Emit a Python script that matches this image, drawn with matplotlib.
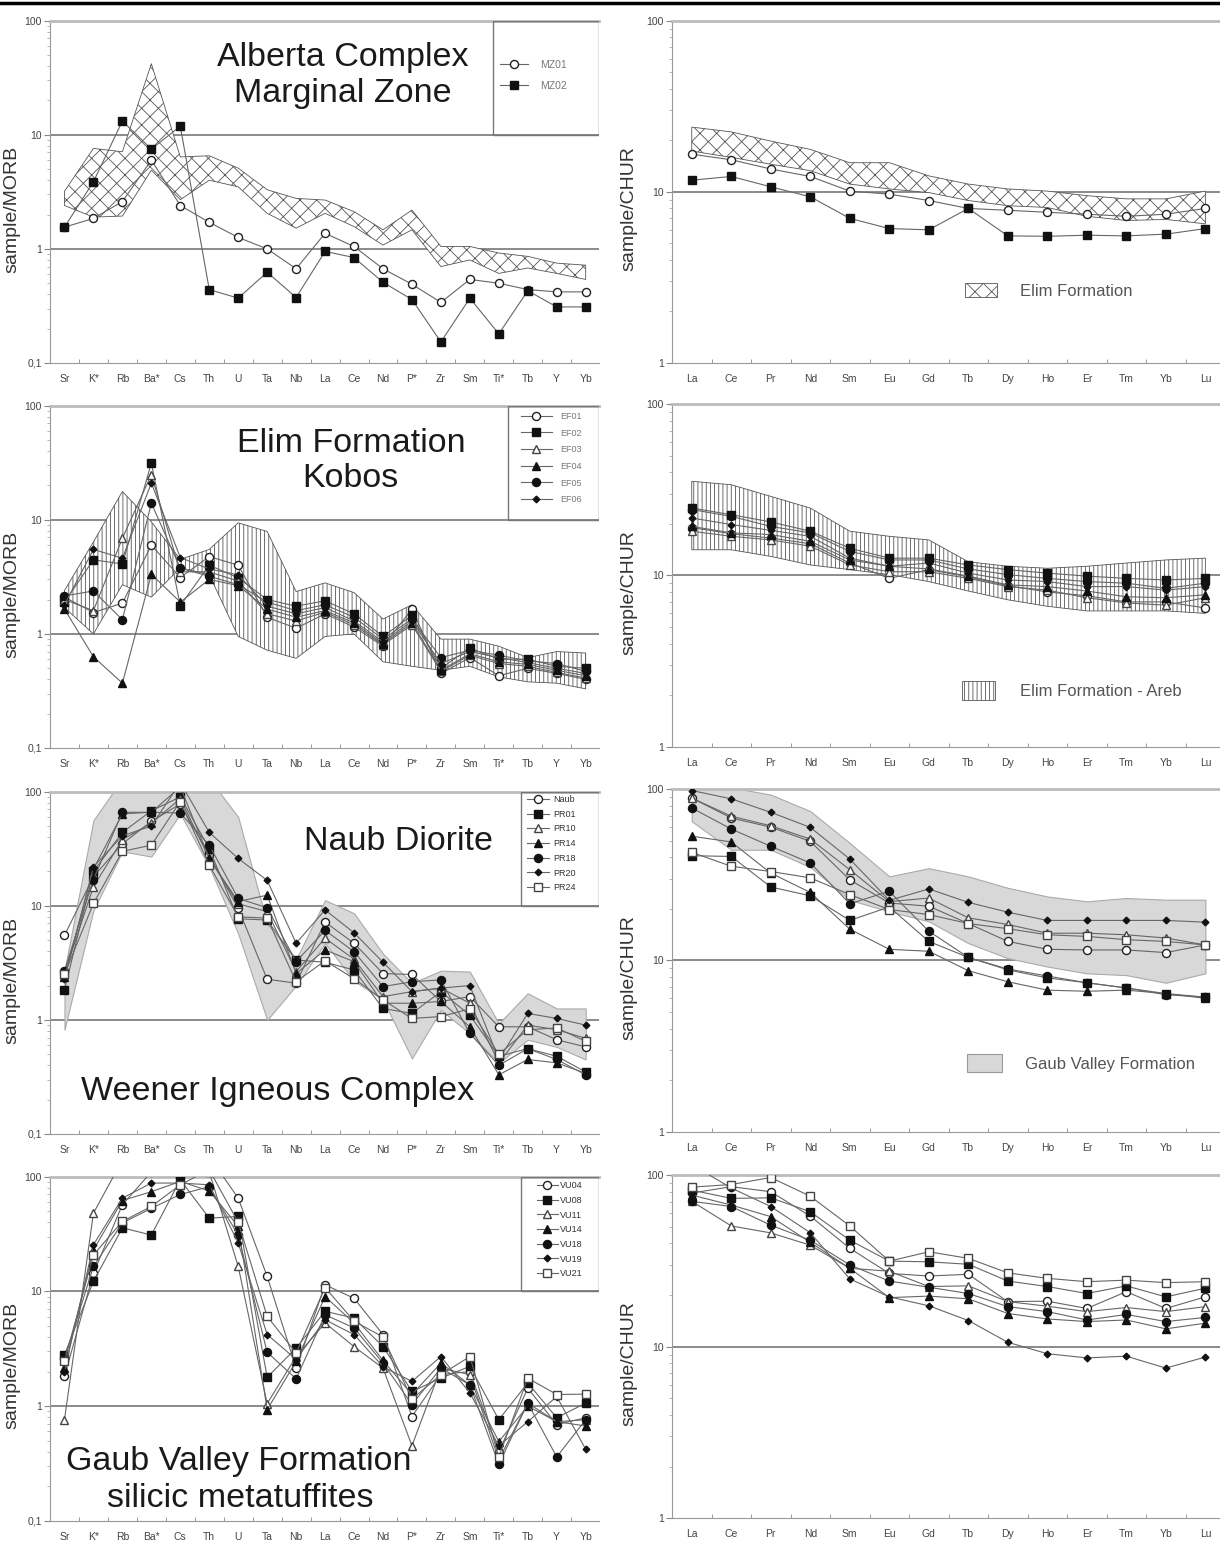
import matplotlib
matplotlib.use("Agg")
import matplotlib.pyplot as plt
import numpy as np
from matplotlib.patches import Patch, Rectangle
from matplotlib.lines import Line2D

plt.rcParams['font.family'] = ['Liberation Sans', 'DejaVu Sans']
plt.rcParams['hatch.linewidth'] = 0.6

# element order on the x axes
morb_el = ["Sr", "K*", "Rb", "Ba*", "Cs", "Th", "U", "Ta", "Nb", "La", "Ce",
           "Nd", "P*", "Zr", "Sm", "Ti*", "Tb", "Y", "Yb"]
ree_el = ["La", "Ce", "Pr", "Nd", "Sm", "Eu", "Gd", "Tb", "Dy", "Ho", "Er",
          "Tm", "Yb", "Lu"]

# --- row 1: Alberta Complex, Marginal Zone
mz_names = ["MZ01", "MZ02"]
mz01_morb = [1.55, 1.85, 2.6, 6.0, 2.4, 1.71, 1.26, 1.0, 0.67, 1.37, 1.05, 0.67, 0.49, 0.34, 0.54, 0.50, 0.44, 0.42, 0.42]
mz02_morb = [1.55, 3.88, 13.2, 7.5, 11.9, 0.44, 0.37, 0.625, 0.375, 0.95, 0.84, 0.51, 0.36, 0.153, 0.37, 0.18, 0.43, 0.31, 0.31]
elim_morb_hi = [3.2, 7.6, 7.1, 42, 6.4, 6.55, 5.1, 3.3, 2.77, 2.68, 2.12, 1.47, 2.19, 1.05, 1.05, 0.92, 0.86, 0.75, 0.72]
elim_morb_lo = [2.4, 1.9, 1.94, 4.9, 2.7, 4.0, 3.5, 2.05, 1.52, 2.05, 1.57, 1.08, 1.47, 0.70, 0.80, 0.61, 0.68, 0.61, 0.54]
mz01_ree = [16.6, 15.4, 13.6, 12.3, 10.1, 9.7, 8.9, 8.0, 7.8, 7.6, 7.4, 7.2, 7.4, 8.0]
mz02_ree = [11.7, 12.3, 10.7, 9.36, 7.0, 6.1, 6.0, 8.0, 5.53, 5.5, 5.58, 5.53, 5.66, 6.1]
elim_ree_hi = [23.9, 22.4, 19.8, 17.7, 14.8, 14.8, 12.4, 11.1, 10.4, 10.1, 9.5, 9.1, 9.1, 10.1]
elim_ree_lo = [17.3, 15.9, 14.5, 13.3, 11.1, 10.4, 9.9, 8.9, 8.3, 8.1, 7.2, 6.8, 6.9, 6.5]

# --- row 2: Elim Formation, Kobos
ef_names = ["EF01", "EF02", "EF03", "EF04", "EF05", "EF06"]
ef01_morb = [2.1, 1.54, 1.86, 6.0, 3.12, 4.76, 4.0, 1.4, 1.12, 1.5, 1.15, 0.78, 1.65, 0.45, 0.62, 0.43, 0.50, 0.45, 0.40]
ef02_morb = [1.9, 4.46, 4.1, 31.4, 1.77, 4.0, 3.1, 2.0, 1.75, 1.95, 1.5, 0.95, 1.45, 0.50, 0.75, 0.60, 0.60, 0.52, 0.50]
ef03_morb = [2.0, 1.6, 6.9, 24.9, 3.5, 3.5, 2.9, 1.5, 1.3, 1.55, 1.2, 0.80, 1.2, 0.47, 0.65, 0.55, 0.52, 0.46, 0.41]
ef04_morb = [1.65, 0.63, 0.37, 3.33, 1.9, 3.0, 2.65, 1.65, 1.4, 1.6, 1.25, 0.82, 1.25, 0.48, 0.67, 0.57, 0.54, 0.48, 0.43]
ef05_morb = [2.15, 2.38, 1.33, 14.0, 3.76, 3.2, 2.7, 1.9, 1.6, 1.8, 1.4, 0.90, 1.35, 0.62, 0.72, 0.65, 0.58, 0.55, 0.47]
ef06_morb = [1.8, 5.5, 4.6, 21.0, 4.67, 3.7, 3.3, 1.75, 1.5, 1.7, 1.3, 0.85, 1.3, 0.55, 0.70, 0.62, 0.56, 0.50, 0.45]
areb_morb_hi = [2.4, 6.4, 17.7, 9.6, 4.5, 5.5, 9.4, 7.9, 2.35, 2.8, 2.3, 1.35, 1.8, 0.9, 0.9, 0.78, 0.62, 0.7, 0.68]
areb_morb_lo = [1.7, 1.0, 2.7, 2.1, 3.8, 3.3, 0.95, 0.72, 0.61, 0.95, 1.0, 0.57, 0.52, 0.48, 0.52, 0.42, 0.38, 0.37, 0.33]
ef01_ree = [19.0, 17.5, 16.5, 15.3, 11.8, 9.6, 10.8, 9.8, 8.7, 8.0, 7.6, 7.0, 7.0, 6.45]
ef02_ree = [24.7, 22.6, 20.5, 18.1, 14.4, 12.6, 12.6, 11.5, 10.8, 10.3, 9.9, 9.6, 9.4, 9.6]
ef03_ree = [18.1, 16.9, 16.1, 14.8, 11.5, 10.5, 10.5, 9.6, 8.6, 8.2, 7.4, 6.9, 6.7, 7.4]
ef04_ree = [19.3, 17.7, 17.3, 15.8, 12.3, 11.3, 10.9, 9.9, 8.8, 8.6, 8.1, 7.5, 7.4, 7.7]
ef05_ree = [24.2, 22.1, 19.3, 17.7, 13.8, 12.3, 12.3, 10.9, 10.1, 9.6, 9.2, 9.0, 8.4, 9.0]
ef06_ree = [21.6, 19.8, 18.3, 16.9, 12.6, 11.3, 11.8, 10.3, 9.4, 9.2, 8.6, 8.6, 8.2, 8.6]
areb_ree_hi = [35.4, 33.8, 28.9, 24.7, 18.1, 16.9, 16.1, 12.0, 11.3, 11.0, 11.3, 11.8, 12.3, 12.6]
areb_ree_lo = [14.1, 14.1, 12.9, 11.5, 10.8, 10.1, 9.2, 8.1, 7.2, 6.6, 6.2, 6.2, 6.2, 6.0]

# --- row 3: Weener Igneous Complex, Naub Diorite
pr_names = ["Naub", "PR01", "PR10", "PR14", "PR18", "PR20", "PR24"]
naub_morb = [5.5, 18, 35, 55, 78, 27.7, 9.5, 2.27, 2.1, 7.2, 4.7, 2.55, 2.5, 1.45, 1.6, 0.87, 0.87, 0.67, 0.58]
pr01_morb = [1.83, 20, 44, 68, 90, 31.7, 7.7, 7.5, 3.35, 3.2, 2.74, 1.26, 1.14, 1.77, 1.1, 0.48, 0.56, 0.48, 0.35]
pr10_morb = [2.55, 14.7, 38, 53, 87, 26, 10.4, 8.9, 2.65, 5.2, 3.4, 1.6, 1.77, 1.9, 1.4, 0.42, 0.9, 0.82, 0.69]
pr14_morb = [2.4, 21, 64, 66, 110, 26, 10.9, 12.4, 2.55, 4.1, 3.24, 1.4, 1.4, 1.45, 0.87, 0.33, 0.45, 0.42, 0.34]
pr18_morb = [2.7, 17, 66, 66, 65, 34, 11.6, 9.6, 3.24, 6.1, 3.96, 1.96, 2.16, 2.24, 0.76, 0.40, 0.56, 0.45, 0.33]
pr20_morb = [2.27, 22, 41, 50, 120, 44, 26, 16.7, 4.7, 9.2, 5.8, 3.2, 1.77, 1.9, 2.0, 0.45, 1.14, 1.03, 0.9]
pr24_morb = [2.5, 10.5, 30, 34, 82, 22.7, 8.0, 7.8, 2.16, 3.3, 2.3, 1.5, 1.03, 1.07, 1.25, 0.5, 0.82, 0.85, 0.65]
gaub_morb_hi = [2.7, 56, 130, 130, 130, 130, 60, 7.0, 3.4, 11.2, 8.6, 3.8, 2.1, 2.7, 2.65, 0.93, 1.71, 1.26, 1.26]
gaub_morb_lo = [0.82, 9.1, 30, 27, 64, 22, 5.7, 1.0, 2.0, 4.7, 2.2, 1.5, 0.46, 1.22, 0.76, 0.42, 0.67, 0.58, 0.45]
naub_ree = [88.6, 67.7, 59.9, 49.5, 29.5, 21.6, 20.7, 16.4, 12.9, 11.6, 11.5, 11.5, 11.1, 12.3]
pr01_ree = [40.8, 40.4, 26.8, 23.8, 17.1, 20.5, 12.9, 10.4, 8.8, 7.9, 7.4, 6.9, 6.4, 6.1]
pr10_ree = [88.6, 69.4, 61, 51, 33.8, 22, 23.1, 17.7, 16.2, 14.4, 14.4, 14.1, 13.5, 12.3]
pr14_ree = [53, 49.1, 32.3, 24.9, 15.2, 11.6, 11.3, 8.7, 7.5, 6.7, 6.6, 6.7, 6.4, 6.0]
pr18_ree = [77.5, 58.4, 46.3, 37, 21.4, 25.3, 14.8, 10.4, 8.9, 8.1, 7.4, 6.9, 6.3, 6.1]
pr20_ree = [98, 87.6, 73.1, 59.7, 39, 22.4, 26.1, 21.8, 19.1, 17.1, 17.1, 17.1, 17.1, 16.7]
pr24_ree = [42.7, 35.4, 33.0, 30.3, 24.2, 19.8, 18.5, 16.4, 15.3, 14.1, 13.8, 13.2, 12.9, 12.3]
gaub_ree_hi = [105, 102, 92.7, 74.3, 48.4, 30.9, 34.5, 30.9, 26.5, 23.6, 22.1, 23.1, 22.6, 22.6]
gaub_ree_lo = [64.8, 44.2, 44.2, 35, 22.5, 19.3, 16.9, 12.6, 10.3, 9.2, 8.4, 8.2, 7.4, 8.4]

# --- row 4: Gaub Valley Formation, silicic metatuffites
vu_names = ["VU04", "VU08", "VU11", "VU14", "VU18", "VU19", "VU21"]
vu04_morb = [1.81, 14.4, 57, 110, 100, 150, 65, 13.5, 2.14, 11.4, 8.7, 4.2, 0.81, 1.88, 2.0, 0.40, 1.43, 0.69, 0.79]
vu08_morb = [2.8, 12.2, 35.8, 31, 94, 43.5, 45, 1.78, 3.2, 6.7, 5.85, 3.3, 1.34, 1.75, 2.22, 0.76, 1.59, 0.79, 1.06]
vu11_morb = [0.76, 48, 140, 130, 120, 110, 16.5, 1.05, 2.7, 5.3, 3.3, 2.14, 0.45, 2.14, 1.88, 0.34, 1.06, 0.73, 0.76]
vu14_morb = [2.14, 23, 62, 74, 91, 75, 37, 0.93, 2.45, 9.0, 5.3, 2.5, 1.26, 2.37, 1.53, 0.49, 1.0, 0.73, 0.67]
vu18_morb = [2.6, 16.5, 39.5, 53, 70, 82, 31, 2.94, 1.73, 6.25, 4.8, 2.37, 1.03, 2.14, 1.53, 0.31, 1.06, 0.36, 0.76]
vu19_morb = [2.0, 25.5, 65, 88, 88, 85, 26.5, 4.2, 2.55, 5.65, 4.2, 2.2, 1.64, 2.7, 1.3, 0.45, 0.73, 1.21, 0.42]
vu21_morb = [2.45, 20.8, 40.8, 55, 85, 115, 40, 6.05, 2.9, 10.8, 5.5, 4.0, 1.15, 1.88, 2.7, 0.36, 1.75, 1.26, 1.27]
vu04_ree = [78.5, 85.5, 79.9, 57.6, 37.4, 26.7, 25.8, 26.4, 18.3, 18.4, 16.7, 20.9, 16.7, 19.5]
vu08_ree = [81.6, 73.1, 73.6, 61.1, 41.7, 31.5, 31.2, 30.2, 24.1, 22.4, 20.4, 22.6, 19.5, 21.9]
vu11_ree = [70.3, 50.5, 46, 39.0, 28.6, 27.5, 22.4, 22.6, 18.3, 17.2, 16.0, 16.9, 16.0, 17.1]
vu14_ree = [76.4, 66.8, 57.2, 40.5, 28.6, 19.3, 19.7, 19.0, 15.6, 14.5, 14.0, 14.3, 12.7, 13.7]
vu18_ree = [70.3, 65.5, 51, 41.7, 29.9, 24.1, 22.2, 20.4, 17.1, 16.0, 14.3, 15.4, 14.0, 14.8]
vu19_ree = [115, 84, 65.5, 46.1, 24.8, 19.5, 17.3, 14.2, 10.6, 9.1, 8.6, 8.8, 7.5, 8.7]
vu21_ree = [85, 88, 96.7, 75.2, 50.5, 31.5, 35.7, 32.7, 26.9, 25.0, 23.9, 24.4, 23.6, 23.9]

# marker styles, in legend order
mk = {
    "oc": dict(marker="o", mfc="white", mec="#222", ms=5.8),
    "fs": dict(marker="s", mfc="#111", mec="#111", ms=5.8),
    "ot": dict(marker="^", mfc="white", mec="#444", ms=5.8),
    "ft": dict(marker="^", mfc="#111", mec="#111", ms=5.8),
    "fc": dict(marker="o", mfc="#111", mec="#111", ms=5.8),
    "fd": dict(marker="D", mfc="#111", mec="#111", ms=3.4),
    "os": dict(marker="s", mfc="white", mec="#444", ms=5.2),
}
order7 = ["oc", "fs", "ot", "ft", "fc", "fd", "os"]

W, H = 1220, 1544
fig = plt.figure(figsize=(W / 100, H / 100), dpi=100)


def make_ax(x0, x1, ytop, ybot):
    return fig.add_axes([x0 / W, 1 - ybot / H, (x1 - x0) / W, (ybot - ytop) / H])


def setup(ax, labels, ymin, xmax, ylabel, lab_xy):
    ax.set_yscale("log")
    ax.set_ylim(ymin, 100)
    ax.set_xlim(-0.5, xmax)
    n = len(labels)
    ax.set_xticks(range(n))
    ax.set_xticklabels(labels)
    ax.set_xticks(np.arange(0.5, n - 1, 1), minor=True)
    ax.tick_params(axis="x", which="major", length=0, pad=8, labelsize=7.5, labelcolor="#444")
    ax.tick_params(axis="x", which="minor", length=3, direction="in", color="#888")
    ticks = [t for t in [0.1, 1, 10, 100] if t >= ymin]
    ax.set_yticks(ticks)
    ax.set_yticklabels([str(t).replace(".", ",") if t < 1 else str(int(t)) for t in ticks])
    ax.tick_params(axis="y", which="major", length=4, pad=2, labelsize=7.5, labelcolor="#444", color="#888")
    ax.tick_params(axis="y", which="minor", length=2, color="#aaa")
    for s in ["left", "bottom"]:
        ax.spines[s].set_color("#999")
    ax.spines["top"].set_color("#bbb")
    ax.spines["top"].set_linewidth(2)
    ax.spines["right"].set_visible(False)
    for g in [1, 10]:
        if g > ymin:
            ax.axhline(g, color="#8a8a8a", lw=1.4, zorder=0.5)
    ax.set_ylabel(ylabel, fontsize=14, color="#333")
    ax.yaxis.set_label_coords(*lab_xy)


def series(ax, x, data, names, styles):
    for vals, name, st in zip(data, names, styles):
        ax.plot(x, vals, color="#666", lw=0.8, label=name, zorder=3, **mk[st])


def left_legend(ax, box_x0, anchor, hl, htp, ls, fs, tcol):
    ax.add_patch(Rectangle((box_x0, 2 / 3), 1 - box_x0, 1 / 3, transform=ax.transAxes,
                           fill=False, ec="#777", lw=1, zorder=5))
    leg = ax.legend(loc="upper left", bbox_to_anchor=anchor, frameon=False, fontsize=fs,
                    handlelength=hl, handletextpad=htp, labelspacing=ls, borderpad=0,
                    borderaxespad=0)
    for t in leg.get_texts():
        t.set_color(tcol)


def title(ax, lines):
    for txt, x, y in lines:
        ax.text(x, y, txt, transform=ax.transAxes, ha="center", va="baseline",
                fontsize=24.5, color="#1a1a1a", zorder=6)


xm = np.arange(len(morb_el))
xr = np.arange(len(ree_el))
LX, RX = (50, 599), (672, 1220)
rows_l = [(20.7, 363), (405.7, 748), (791.7, 1134), (1176.7, 1520.7)]
rows_r = [(20.7, 363), (404, 746.7), (789, 1131.7), (1175, 1518.3)]

axl = [make_ax(LX[0], LX[1], *r) for r in rows_l]
axr = [make_ax(RX[0], RX[1], *r) for r in rows_r]
for a in axl:
    setup(a, morb_el, 0.1, 18.46, "sample/MORB", (-0.053, 0.45))
for a in axr:
    setup(a, ree_el, 1, 13.37, "sample/CHUR", (-0.064, 0.45))

# row 1
ax = axl[0]
ax.fill_between(xm, elim_morb_lo, elim_morb_hi, facecolor="white", edgecolor="#555", hatch="xx", lw=0.6, zorder=1)
series(ax, xm, [mz01_morb, mz02_morb], mz_names, ["oc", "fs"])
left_legend(ax, 0.807, (0.82, 0.885), 2.7, 1.1, 1.05, 7.5, "#777")
title(ax, [("Alberta Complex", 0.533, 0.8685), ("Marginal Zone", 0.533, 0.763)])

ax = axr[0]
ax.fill_between(xr, elim_ree_lo, elim_ree_hi, facecolor="white", edgecolor="#555", hatch="xx", lw=0.6, zorder=1)
series(ax, xr, [mz01_ree, mz02_ree], mz_names, ["oc", "fs"])
leg = ax.legend(handles=[Patch(facecolor="white", edgecolor="#555", hatch="xx", lw=0.6, label="Elim Formation")],
                loc="center left", bbox_to_anchor=(0.535, 0.21), frameon=False, fontsize=12,
                handlelength=1.9, handleheight=0.9, handletextpad=1.4, borderpad=0, borderaxespad=0)
leg.get_texts()[0].set_color("#555")

# row 2
ax = axl[1]
ax.fill_between(xm, areb_morb_lo, areb_morb_hi, facecolor="white", edgecolor="#555", hatch="||||", lw=0.6, zorder=1)
series(ax, xm, [ef01_morb, ef02_morb, ef03_morb, ef04_morb, ef05_morb, ef06_morb], ef_names, order7[:6])
left_legend(ax, 0.834, (0.858, 0.982), 3.4, 0.9, 0.85, 6.5, "#777")
title(ax, [("Elim Formation", 0.548, 0.866), ("Kobos", 0.548, 0.763)])

ax = axr[1]
ax.fill_between(xr, areb_ree_lo, areb_ree_hi, facecolor="white", edgecolor="#555", hatch="||||", lw=0.6, zorder=1)
series(ax, xr, [ef01_ree, ef02_ree, ef03_ree, ef04_ree, ef05_ree, ef06_ree], ef_names, order7[:6])
leg = ax.legend(handles=[Patch(facecolor="white", edgecolor="#555", hatch="||||", lw=0.6, label="Elim Formation - Areb")],
                loc="center left", bbox_to_anchor=(0.529, 0.163), frameon=False, fontsize=12,
                handlelength=2.0, handleheight=1.4, handletextpad=1.5, borderpad=0, borderaxespad=0)
leg.get_texts()[0].set_color("#555")

# row 3
ax = axl[2]
ax.fill_between(xm, gaub_morb_lo, gaub_morb_hi, facecolor="#d8d8d8", edgecolor="#aaa", lw=0.8, zorder=1)
series(ax, xm, [naub_morb, pr01_morb, pr10_morb, pr14_morb, pr18_morb, pr20_morb, pr24_morb], pr_names, order7)
left_legend(ax, 0.858, (0.869, 0.99), 2.4, 0.45, 0.63, 6.5, "#333")
title(ax, [("Naub Diorite", 0.634, 0.830), ("Weener Igneous Complex", 0.415, 0.0993)])

ax = axr[2]
ax.fill_between(xr, gaub_ree_lo, gaub_ree_hi, facecolor="#d8d8d8", edgecolor="#aaa", lw=0.8, zorder=1)
series(ax, xr, [naub_ree, pr01_ree, pr10_ree, pr14_ree, pr18_ree, pr20_ree, pr24_ree], pr_names, order7)
leg = ax.legend(handles=[Patch(facecolor="#d8d8d8", edgecolor="#999", lw=0.8, label="Gaub Valley Formation")],
                loc="center left", bbox_to_anchor=(0.538, 0.20), frameon=False, fontsize=12,
                handlelength=2.1, handleheight=1.3, handletextpad=1.4, borderpad=0, borderaxespad=0)
leg.get_texts()[0].set_color("#555")

# row 4
ax = axl[3]
series(ax, xm, [vu04_morb, vu08_morb, vu11_morb, vu14_morb, vu18_morb, vu19_morb, vu21_morb], vu_names, order7)
left_legend(ax, 0.858, (0.887, 0.987), 2.3, 0.2, 0.63, 6.5, "#333")
title(ax, [("Gaub Valley Formation", 0.344, 0.147), ("silicic metatuffites", 0.346, 0.040)])

ax = axr[3]
series(ax, xr, [vu04_ree, vu08_ree, vu11_ree, vu14_ree, vu18_ree, vu19_ree, vu21_ree], vu_names, order7)

# thick rule along the top edge of the page
fig.add_artist(Line2D([0, 1], [1 - 3 / H, 1 - 3 / H], color="black", lw=2.5, transform=fig.transFigure))

fig.savefig("out.png", dpi=100)
